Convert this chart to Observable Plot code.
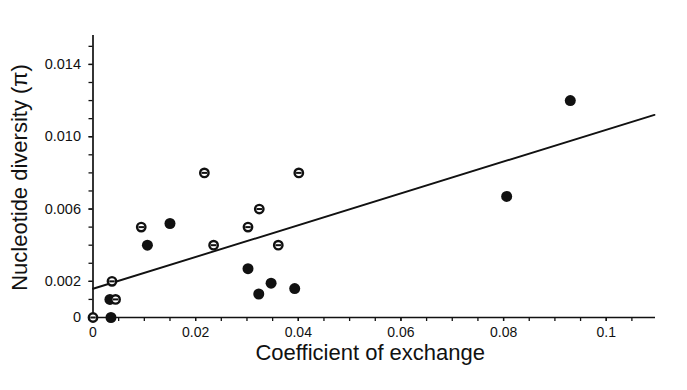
<!DOCTYPE html>
<html>
<head>
<meta charset="utf-8">
<script src="https://cdn.jsdelivr.net/npm/d3@7"></script>
<script src="https://cdn.jsdelivr.net/npm/@observablehq/plot@0.6"></script>
<style>
  html, body { margin: 0; padding: 0; background: #fff; }
</style>
</head>
<body>
<div id="chart"></div>
<script>
// Open (striped) circles
const openX = [0, 0.0037, 0.0044, 0.0094, 0.0217, 0.0235, 0.0302, 0.0324, 0.0361, 0.0401];
const openY = [0, 0.0020, 0.0010, 0.0050, 0.0080, 0.0040, 0.0050, 0.0060, 0.0040, 0.0080];
// Filled circles
const filledX = [0.0035, 0.0033, 0.0106, 0.0150, 0.0302, 0.0323, 0.0347, 0.0393, 0.0806, 0.0930];
const filledY = [0.0000, 0.0010, 0.0040, 0.0052, 0.0027, 0.0013, 0.0019, 0.0016, 0.0067, 0.0120];
// Fitted regression line (end points)
const fitX = [0, 0.1094];
const fitY = [0.00159, 0.01121];

// Axes
const xLabeledTicks = [0, 0.02, 0.04, 0.06, 0.08, 0.1];
const xTickLabels = ["0", "0.02", "0.04", "0.06", "0.08", "0.1"];
const xMinorTicks = d3.range(0, 22).map(i => +(i * 0.005).toFixed(3));
const yLabeledTicks = [0, 0.002, 0.006, 0.010, 0.014];
const yTickLabels = ["0", "0.002", "0.006", "0.010", "0.014"];
const yMinorTicks = d3.range(0, 16).map(i => +(i * 0.001).toFixed(3));
const xLabel = "Coefficient of exchange";
const yLabel = "Nucleotide diversity (π)";

const openData = openX.map((x, i) => ({x, y: openY[i]}));
const filledData = filledX.map((x, i) => ({x, y: filledY[i]}));
const fitData = fitX.map((x, i) => ({x, y: fitY[i]}));

const xLabelMap = new Map(xLabeledTicks.map((v, i) => [v, xTickLabels[i]]));
const yLabelMap = new Map(yLabeledTicks.map((v, i) => [v, yTickLabels[i]]));

const bar = {
  draw(context, size) {
    const w = Math.sqrt(size / Math.PI) * 0.65;
    context.moveTo(-w, 0);
    context.lineTo(w, 0);
  }
};

const chart = Plot.plot({
  width: 687,
  height: 390,
  marginLeft: 92.5,
  marginRight: 32,
  marginTop: 35,
  marginBottom: 73,
  style: {fontFamily: "'Liberation Sans', Arial, sans-serif", background: "#fff", color: "#111"},
  x: {domain: [0, 0.1096], axis: null},
  y: {domain: [0, 0.0156], axis: null},
  marks: [
    Plot.ruleX(xMinorTicks, {y1: 0, y2: 0, insetTop: 0, insetBottom: -4, stroke: "#111", strokeWidth: 1.3}),
    Plot.ruleY(yMinorTicks, {x1: 0, x2: 0, insetLeft: -4, insetRight: 0, stroke: "#111", strokeWidth: 1.3}),
    Plot.axisX(xLabeledTicks, {tickSize: 4, tickPadding: 6, strokeWidth: 1.3, fontSize: 14, tickFormat: d => xLabelMap.get(d), label: null}),
    Plot.axisY(yLabeledTicks, {tickSize: 4, tickPadding: 8, strokeWidth: 1.3, fontSize: 14.5, tickFormat: d => yLabelMap.get(d), label: null}),
    Plot.ruleY([0], {stroke: "#111", strokeWidth: 1.7}),
    Plot.ruleX([0], {stroke: "#111", strokeWidth: 1.7}),
    Plot.line(fitData, {x: "x", y: "y", stroke: "#111", strokeWidth: 1.9}),
    Plot.dot(filledData, {x: "x", y: "y", r: 5.5, fill: "#111", stroke: "none"}),
    Plot.dot(openData, {x: "x", y: "y", r: 4.2, fill: "#fff", stroke: "#111", strokeWidth: 2.4}),
    Plot.dot(openData, {x: "x", y: "y", r: 4.2, symbol: bar, fill: "none", stroke: "#111", strokeWidth: 2}),
    Plot.text([xLabel], {frameAnchor: "bottom", dx: -4, dy: 42, fontSize: 22, fill: "#111"}),
    Plot.text([yLabel], {frameAnchor: "left", textAnchor: "middle", rotate: -90, dx: -73, dy: 1, fontSize: 22, fill: "#111"})
  ]
});
document.getElementById("chart").appendChild(chart);
</script>
</body>
</html>
